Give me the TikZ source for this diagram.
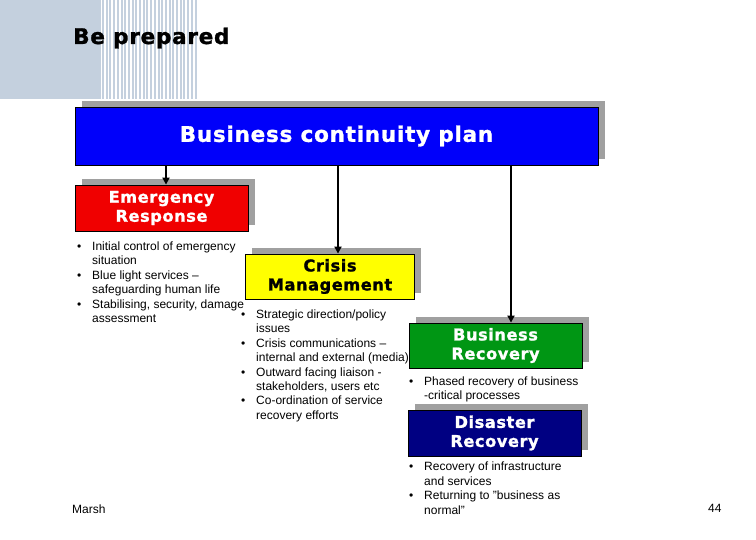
\documentclass[tikz,border=0pt]{standalone}
\usepackage{fontspec}
\setmainfont{Liberation Sans}
\newfontfamily\boxfont[LetterSpace=3.5,FakeBold=1.3]{DejaVu Sans}
\usetikzlibrary{arrows.meta,shadows}
\definecolor{bgblue}{RGB}{196,208,222}
\definecolor{bcpblue}{RGB}{0,0,250}
\definecolor{ered}{RGB}{240,0,0}
\definecolor{cyellow}{RGB}{255,255,0}
\definecolor{bgreen}{RGB}{0,150,20}
\definecolor{dnavy}{RGB}{0,0,130}
\definecolor{shgray}{RGB}{160,160,160}
\newcommand\bul{\llap{\textbullet\hspace{11pt}}}
\begin{document}
\begin{tikzpicture}[x=1pt,y=-1pt,
  box/.style={draw=black, line width=0.8pt, inner sep=0pt, align=center,
    general shadow={fill=shgray, shadow xshift=6.5pt, shadow yshift=6pt},
    font=\boxfont\bfseries\fontsize{16.2}{19}\selectfont, text=white},
  body/.style={anchor=base west, inner sep=0pt, font=\fontsize{12}{14.4}\selectfont},
  arr/.style={line width=2pt, -{Triangle[width=7pt,length=7pt]}}]
\useasboundingbox (0,0) rectangle (756,540);
% decorative header
\fill[bgblue] (0,0) rectangle (101,99);
\foreach \i in {0,...,25} \fill[bgblue] (102+3.7*\i,0) rectangle (104+3.7*\i,99);
\node[anchor=base west, inner sep=0pt, font=\boxfont\bfseries\fontsize{21.5}{24}\selectfont] (title) at (73,44) {Be prepared};
% boxes
\node[box, fill=bcpblue, minimum width=523pt, minimum height=58pt,
  font=\boxfont\bfseries\fontsize{21.5}{24}\selectfont] (bcp) at (336.5,136) {Business continuity plan};
\node[box, fill=ered, minimum width=173pt, minimum height=46pt] (er) at (161.5,208) {Emergency\\Response};
\node[box, fill=cyellow, text=black, minimum width=169pt, minimum height=45pt] (cm) at (330,276.5) {Crisis\\Management};
\node[box, fill=bgreen, minimum width=173pt, minimum height=45pt] (br) at (495.5,345.5) {Business\\Recovery};
\node[box, fill=dnavy, minimum width=173pt, minimum height=46pt] (dr) at (494.5,433) {Disaster\\Recovery};
% arrows
\draw[arr] ([xshift=4.5pt]er.north |- bcp.south) -- ([xshift=4.5pt]er.north);
\draw[arr] ([xshift=8pt]cm.north |- bcp.south) -- ([xshift=8pt]cm.north);
\draw[arr] ([xshift=15.5pt]br.north |- bcp.south) -- ([xshift=15.5pt]br.north);
% lists
\foreach \t [count=\i] in {{\bul Initial control of emergency},{situation},{\bul Blue light services \textendash},{safeguarding human life},{\bul Stabilising, security, damage},{assessment}}
  \node[body] (erl\i) at (92,250.5+14.4*\i-14.4) {\t};
\foreach \t [count=\i] in {{\bul Strategic direction/policy},{issues},{\bul Crisis communications \textendash},{internal and external (media)},{\bul Outward facing liaison -},{stakeholders, users etc},{\bul Co-ordination of service},{recovery efforts}}
  \node[body] (cml\i) at (256,318.5+14.4*\i-14.4) {\t};
\foreach \t [count=\i] in {{\bul Phased recovery of business},{-critical processes}}
  \node[body] (brl\i) at (424,385+14.4*\i-14.4) {\t};
\foreach \t [count=\i] in {{\bul Recovery of infrastructure},{and services},{\bul Returning to "business as},{normal"}}
  \node[body] (drl\i) at (424,471+14.4*\i-14.4) {\t};
\node[body] (marsh) at (72,513) {Marsh};
\node[body] (page) at (708,512) {44};
\end{tikzpicture}
\end{document}
